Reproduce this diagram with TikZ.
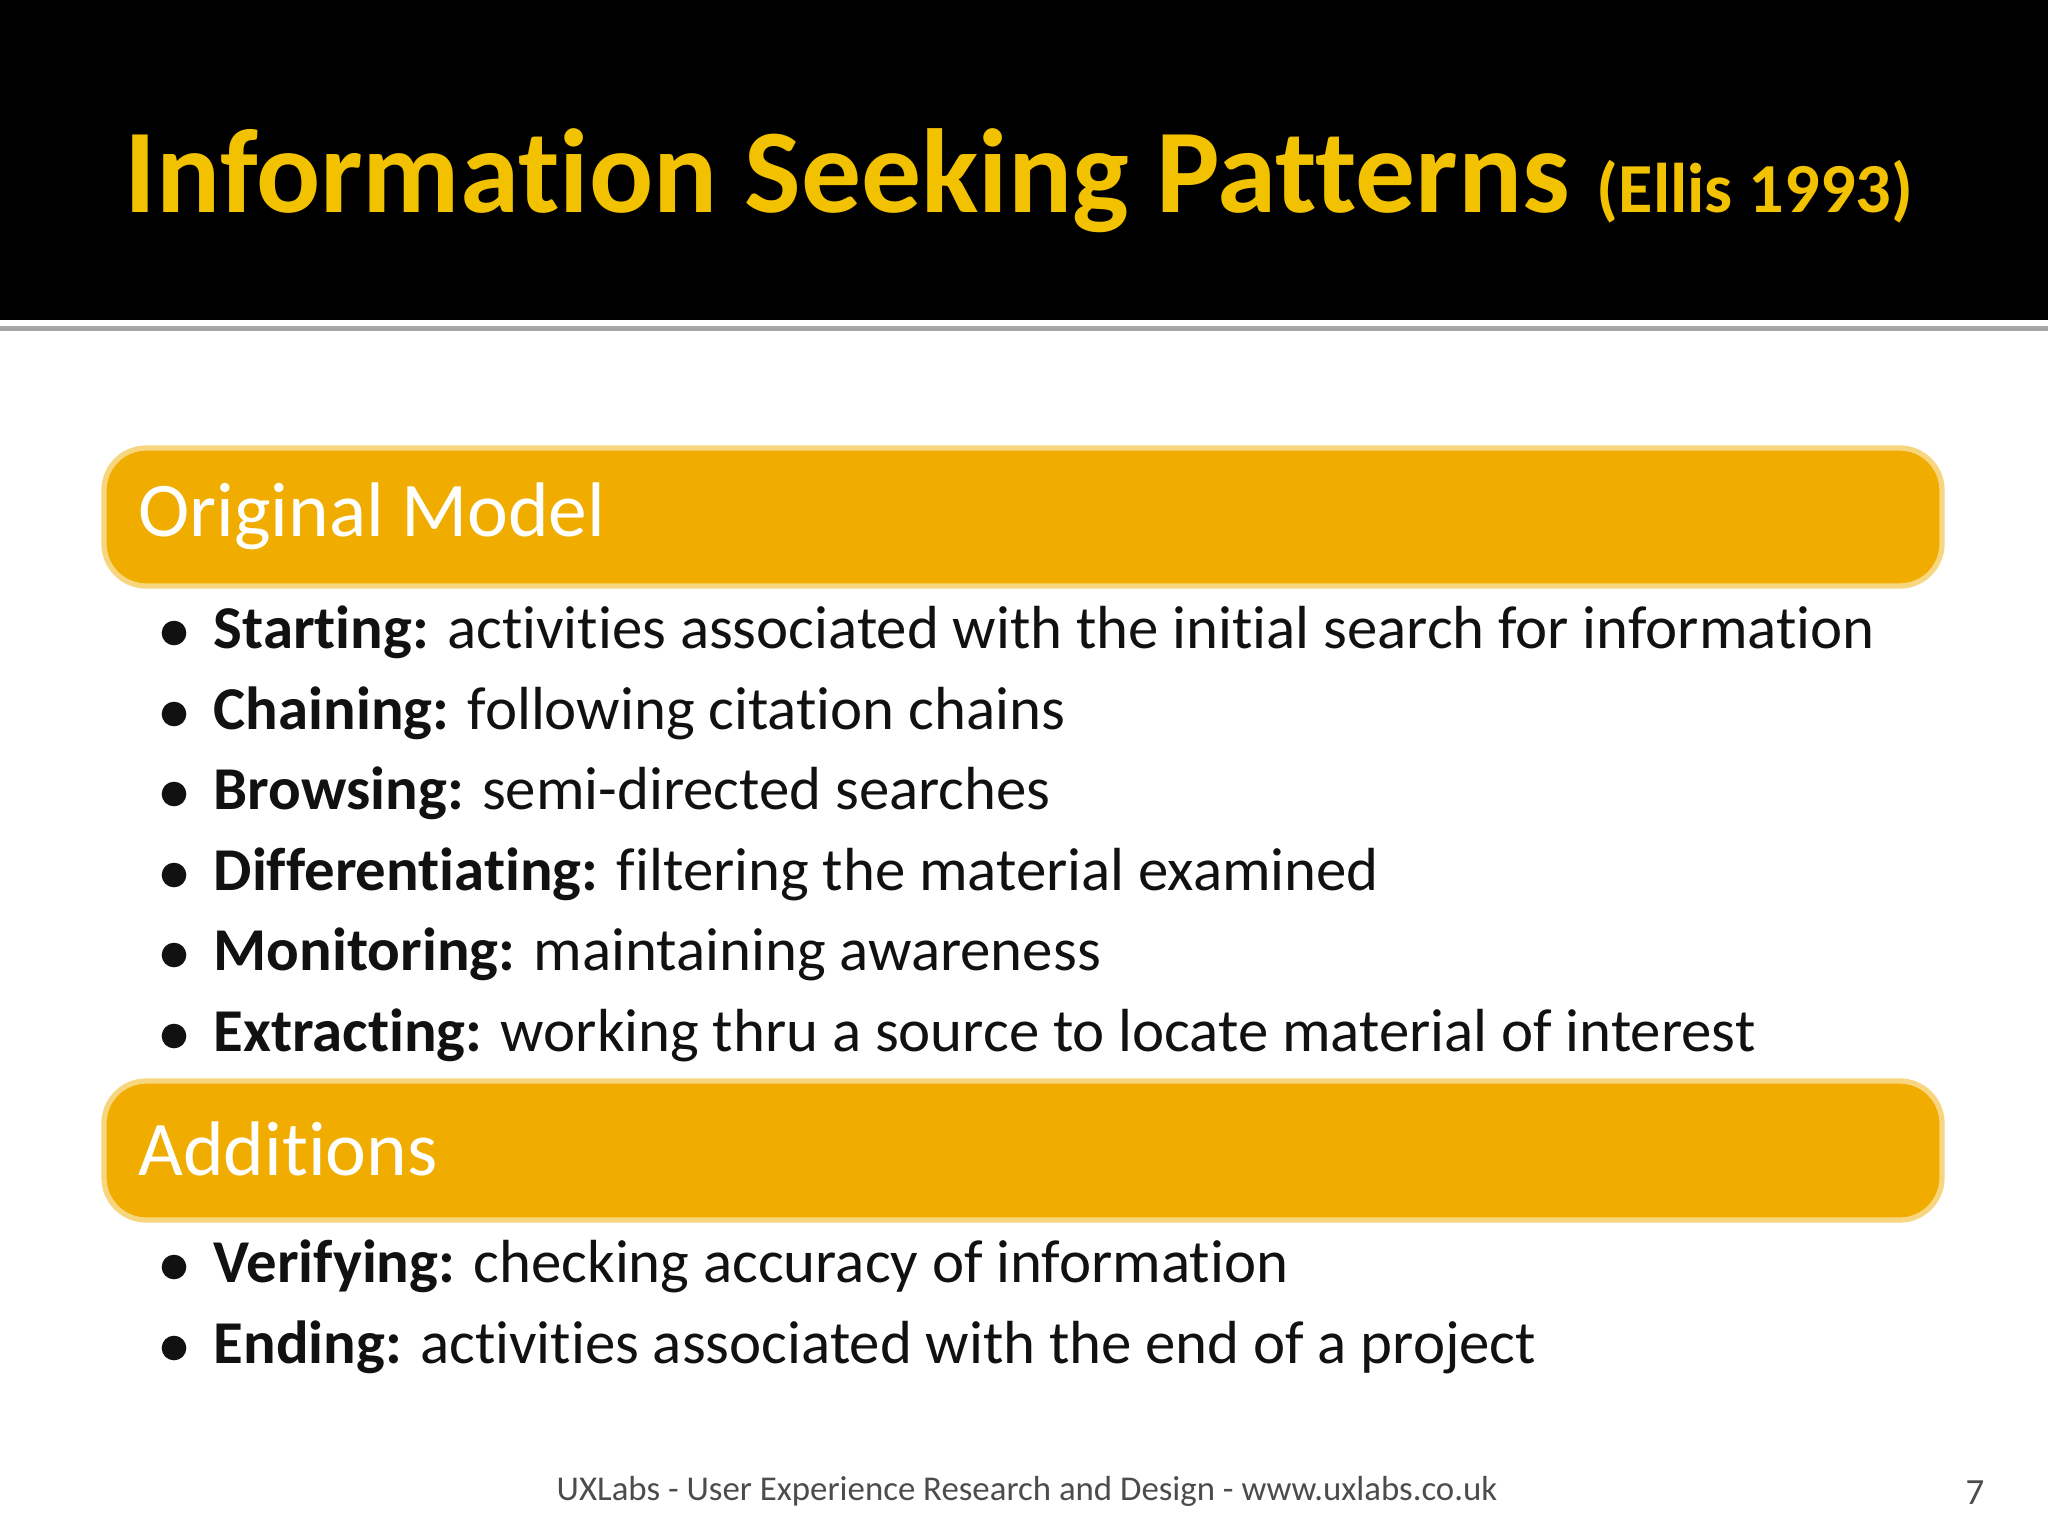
\documentclass[tikz,border=0pt]{standalone}
\usepackage{fontspec}
\setmainfont{Carlito}[Ligatures=NoCommon]
\definecolor{gold}{HTML}{F0AD00}
\definecolor{titley}{HTML}{F2C200}
\definecolor{txt}{HTML}{111111}
\begin{document}
\begin{tikzpicture}[x=0.01cm,y=-0.01cm,
  htxt/.style={anchor=west, text=white, font=\fontsize{22}{26}\selectfont},
  item/.style={anchor=base west, text=txt, font=\fontsize{17.3}{20}\selectfont, inner sep=0pt},
  dot/.style={circle, fill=txt, inner sep=0pt, minimum size=7pt}]
\useasboundingbox (0,0) rectangle (2048,1536);
\fill[black] (0,0) rectangle (2048,320);
\fill[gray!70] (0,326) rectangle (2048,331);
\node[anchor=base west, text=titley, inner sep=0pt] (title) at (124,212)
  {\bfseries\fontsize{34}{40}\selectfont Information Seeking Patterns \fontsize{20}{24}\selectfont (Ellis 1993)};
\draw[gold!50, line width=1.5pt, fill=gold, rounded corners=12pt] (104,448) rectangle (1942,586);
\node[htxt] (h1) at (126,516) {Original Model};
\draw[gold!50, line width=1.5pt, fill=gold, rounded corners=12pt] (104,1081) rectangle (1942,1220);
\node[htxt] (h2) at (126,1149) {Additions};
\foreach \y/\b/\t [count=\i] in {
 648/Starting:/activities associated with the initial search for information,
 729/Chaining:/following citation chains,
 809/Browsing:/semi-directed searches,
 890/Differentiating:/filtering the material examined,
 970/Monitoring:/maintaining awareness,
 1051/Extracting:/working thru a source to locate material of interest,
 1282/Verifying:/checking accuracy of information,
 1363/Ending:/activities associated with the end of a project}{
 \node[dot] (d\i) at (174,\y-15) {};
 \node[item] (t\i) at (213,\y) {\textbf{\b} \t};
}
\node[anchor=base, text=gray!60!black, font=\fontsize{9.9}{12}\selectfont] (foot) at (1027,1500) {UXLabs - User Experience Research and Design - www.uxlabs.co.uk};
\node[anchor=base, text=gray!60!black, font=\fontsize{10.5}{12}\selectfont] (pg) at (1975,1504) {7};
\end{tikzpicture}
\end{document}
